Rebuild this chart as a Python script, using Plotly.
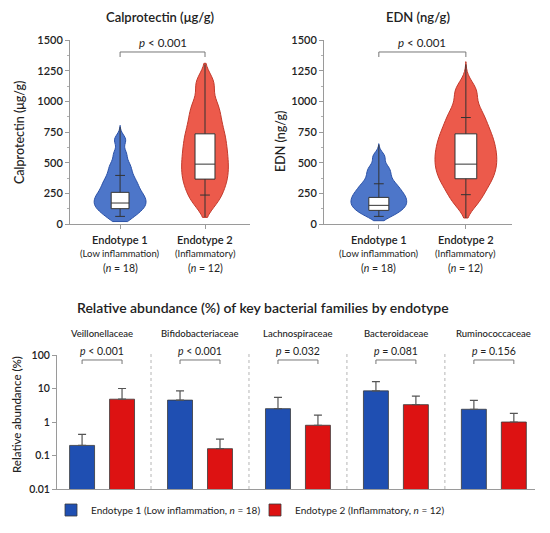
import plotly.graph_objects as go

# ---- data ----
groups = ["Endotype 1", "Endotype 2"]
group_sub = ["(Low inflammation)", "(Inflammatory)"]
group_n = [18, 12]

# estimated values that reproduce the violin outlines
calpro_e1 = [40, 80, 111, 132, 154, 175, 196, 218, 239, 265, 295, 326, 357, 397, 446, 495, 575, 686]
calpro_e2 = [180, 276, 351, 419, 486, 555, 626, 701, 779, 877, 981, 1150]
edn_e1 = [64, 91, 117, 135, 153, 171, 189, 207, 226, 244, 265, 290, 314, 342, 384, 427, 469, 550]
edn_e2 = [188, 297, 370, 434, 494, 553, 613, 678, 744, 827, 925, 1086]
calpro_span = [[20, 803], [54, 1310]]
edn_span = [[27, 654], [49, 1323]]

# box summaries (q1, median, q3), whisker line extent and whisker caps
calpro_q1, calpro_med, calpro_q3 = [125, 366], [171, 488], [258, 735]
calpro_line_lo, calpro_line_hi = [62, 57], [790, 1300]
calpro_caps = [[62, 396], [236]]
edn_q1, edn_med, edn_q3 = [111, 369], [152, 488], [217, 735]
edn_line_lo, edn_line_hi = [62, 49], [645, 1300]
edn_caps = [[62, 328], [239, 868]]

families = ["Veillonellaceae", "Bifidobacteriaceae", "Lachnospiraceae", "Bacteroidaceae", "Ruminococcaceae"]
endo1_mean = [0.2, 4.5, 2.5, 8.5, 2.4]
endo1_upper = [0.43, 8.5, 5.4, 16, 4.4]
endo2_mean = [4.8, 0.16, 0.8, 3.3, 1.0]
endo2_upper = [10, 0.31, 1.6, 5.9, 1.8]
p_bars = ["<i>p</i> < 0.001", "<i>p</i> < 0.001", "<i>p</i> = 0.032", "<i>p</i> = 0.081", "<i>p</i> = 0.156"]

BLUE_FILL, BLUE_LINE = "#4d76c9", "#2b51a6"
RED_FILL, RED_LINE = "#ec5a4b", "#c23a2c"
BAR_BLUE, BAR_RED = "#1f4fb2", "#dd1212"
FONT = "Lato"
TXT = "#222222"

# the page puts the figure 8px in from the window edge
W, H, PAD = 534, 517, 8


def fx(px):
    return (px - PAD) / W


def fy(py):
    return 1 - (py - PAD) / H


fig = go.Figure()


def add_panel(vals, spans, bws, vwidths, q1, med, q3, lo, hi, caps, bwidths, xa, ya):
    fills = [(BLUE_FILL, BLUE_LINE), (RED_FILL, RED_LINE)]
    for i, v in enumerate(vals):
        fig.add_trace(go.Violin(
            y=v, x0=i, width=vwidths[i], spanmode="manual", span=spans[i], bandwidth=bws[i],
            fillcolor=fills[i][0], line=dict(color=fills[i][1], width=1),
            points=False, box=dict(visible=False), meanline=dict(visible=False),
            showlegend=False, hoverinfo="skip", xaxis=xa, yaxis=ya))
        fig.add_trace(go.Box(
            x=[i], q1=[q1[i]], median=[med[i]], q3=[q3[i]], lowerfence=[lo[i]], upperfence=[hi[i]],
            width=bwidths[i], whiskerwidth=0, fillcolor="white", boxpoints=False,
            line=dict(color="#333333", width=1), showlegend=False, hoverinfo="skip",
            xaxis=xa, yaxis=ya))
        fig.add_trace(go.Scatter(
            x=[i] * len(caps[i]), y=caps[i], mode="markers",
            marker=dict(symbol="line-ew", size=7, line=dict(color="#333333", width=1)),
            showlegend=False, hoverinfo="skip", xaxis=xa, yaxis=ya))


add_panel([calpro_e1, calpro_e2], calpro_span, [42, 80], [0.61, 0.55],
          calpro_q1, calpro_med, calpro_q3, calpro_line_lo, calpro_line_hi, calpro_caps,
          [0.21, 0.235], "x", "y")
add_panel([edn_e1, edn_e2], edn_span, [38, 80], [0.64, 0.71],
          edn_q1, edn_med, edn_q3, edn_line_lo, edn_line_hi, edn_caps,
          [0.23, 0.25], "x2", "y2")

# bars
err1 = [u - m for u, m in zip(endo1_upper, endo1_mean)]
err2 = [u - m for u, m in zip(endo2_upper, endo2_mean)]
OFF = 0.204
BW = 0.255
fig.add_trace(go.Bar(
    x=families, y=endo1_mean, width=BW, offset=-OFF - BW / 2,
    marker=dict(color=BAR_BLUE, line=dict(color="#3a3a3a", width=0.8)),
    error_y=dict(type="data", symmetric=False, array=err1, arrayminus=[0] * 5,
                 color="#555555", thickness=1.2, width=4),
    name="Endotype 1 (Low inflammation, <i>n</i> = 18)", xaxis="x3", yaxis="y3"))
fig.add_trace(go.Bar(
    x=families, y=endo2_mean, width=BW, offset=OFF - BW / 2,
    marker=dict(color=BAR_RED, line=dict(color="#3a3a3a", width=0.8)),
    error_y=dict(type="data", symmetric=False, array=err2, arrayminus=[0] * 5,
                 color="#555555", thickness=1.2, width=4),
    name="Endotype 2 (Inflammatory, <i>n</i> = 12)", xaxis="x3", yaxis="y3"))

ax_line = dict(showline=True, linecolor="#9a9a9a", linewidth=1, ticks="outside",
               ticklen=4, tickcolor="#9a9a9a", showgrid=False, zeroline=False, automargin=False,
               tickfont=dict(family=FONT, size=11, color=TXT, weight=600))
minor = dict(ticks="outside", ticklen=2, tickcolor="#b0b0b0", dtick=125, showgrid=False)

fig.update_layout(
    width=W, height=H, margin=dict(l=0, r=0, t=0, b=0, autoexpand=False),
    paper_bgcolor="white", plot_bgcolor="white", barmode="overlay",
    font=dict(family=FONT, color=TXT),
    xaxis=dict(domain=[fx(70), fx(250)], range=[-0.59, 1.53], tickvals=[0, 1],
               showticklabels=False, anchor="y", **ax_line),
    yaxis=dict(domain=[fy(224), fy(40)], range=[0, 1500], tickvals=list(range(0, 1501, 250)),
               anchor="x", minor=minor, **ax_line),
    xaxis2=dict(domain=[fx(324), fx(512)], range=[-0.63, 1.53], tickvals=[0, 1],
                showticklabels=False, anchor="y2", **ax_line),
    yaxis2=dict(domain=[fy(224), fy(40)], range=[0, 1500], tickvals=list(range(0, 1501, 250)),
                anchor="x2", minor=minor, **ax_line),
    xaxis3=dict(domain=[fx(57), fx(535)], range=[-0.46, 4.42], type="category",
                showticklabels=False, anchor="y3", **{**ax_line, "ticks": ""}),
    yaxis3=dict(domain=[fy(489), fy(355)], type="log", range=[-2, 2],
                tickvals=[0.01, 0.1, 1, 10, 100], ticktext=["0.01", "0.1", "1", "10", "100"],
                anchor="x3", **{**ax_line, "tickfont": dict(family=FONT, size=10.5, color=TXT, weight=600)}),
    legend=dict(orientation="h", x=fx(51), y=fy(510), yanchor="middle", xanchor="left",
                entrywidth=159, entrywidthmode="pixels", tracegroupgap=0,
                font=dict(family=FONT, size=10, color=TXT)),
)

ann = []
shapes = []
BR = "#777777"


def note(text, x, y, xref="paper", size=10.5, weight=None, angle=0):
    f = dict(size=size)
    if weight:
        f["weight"] = weight
    ann.append(dict(text=text, x=x, y=y, xref=xref, yref="paper", showarrow=False,
                    xanchor="center", yanchor="middle", font=f, textangle=angle))


# panel titles and axis titles
note("Calprotectin (μg/g)", fx(160), fy(17), size=13, weight=600)
note("EDN (ng/g)", fx(418), fy(17), size=13, weight=600)
note("Relative abundance (%) of key bacterial families by endotype", fx(263), fy(307), size=14, weight=600)
note("Calprotectin (μg/g)", fx(20), fy(133), size=12.5, weight=500, angle=-90)
note("EDN (ng/g)", fx(280), fy(142), size=12.5, weight=500, angle=-90)
note("Relative abundance (%)", fx(16), fy(415), size=11.5, weight=500, angle=-90)

# category labels + brackets on the violin panels
for xa in ["x", "x2"]:
    for i, g in enumerate(groups):
        note(g, i, fy(239), xref=xa, size=11, weight=600)
        note(group_sub[i], i, fy(253), xref=xa, size=9.5)
        note("(<i>n</i> = %d)" % group_n[i], i, fy(268), xref=xa, size=10.5)
    note("<i>p</i> < 0.001", 0.5, fy(42), xref=xa, size=11.5)
    shapes.append(dict(type="path", xref=xa, yref="paper", line=dict(color=BR, width=1),
                       path="M0,%f L0,%f L1,%f L1,%f" % (fy(57), fy(52), fy(52), fy(57))))

# family labels, p values, brackets and dividers on the bar panel
for i, fam in enumerate(families):
    note(fam, i, fy(333), xref="x3", size=9.5, weight=500)
    note(p_bars[i], i, fy(351), xref="x3", size=10.5)
    shapes.append(dict(type="path", xref="x3", yref="paper", line=dict(color=BR, width=1),
                       path="M%f,%f L%f,%f L%f,%f L%f,%f" % (
                           i - OFF, fy(364), i - OFF, fy(360), i + OFF, fy(360), i + OFF, fy(364))))
    if i < len(families) - 1:
        shapes.append(dict(type="line", xref="x3", yref="paper", x0=i + 0.5, x1=i + 0.5,
                           y0=fy(489), y1=fy(353), line=dict(color="#b5b5b5", width=1, dash="dot")))

fig.update_layout(annotations=ann, shapes=shapes)
fig.write_html("out.html")
